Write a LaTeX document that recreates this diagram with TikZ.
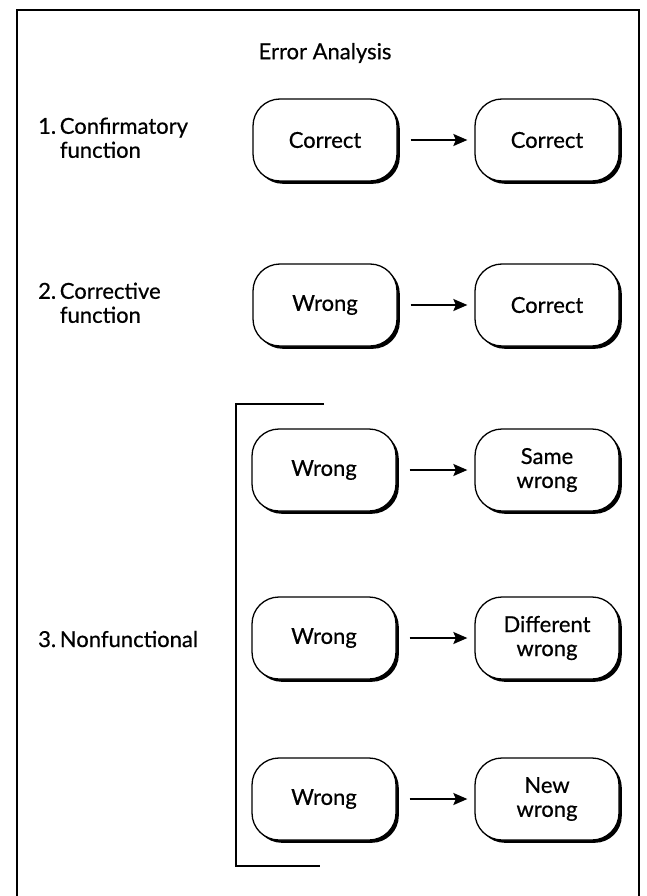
\documentclass[tikz,border=0pt]{standalone}
\usepackage{fontspec}
\setmainfont{Lato}[FakeBold=0.6]
\usetikzlibrary{arrows.meta,shadows}

\begin{document}
\begin{tikzpicture}[x=1pt,y=-1pt,
  every node/.style={font=\fontsize{22}{24}\selectfont, text=black},
  stage/.style={rectangle, rounded corners=27pt, draw=black, line width=1.3pt,
    fill=white, minimum width=144pt, minimum height=82pt, align=center,
    inner sep=0pt,
    drop shadow={shadow xshift=2.8pt, shadow yshift=-2.8pt, fill=black, opacity=1}},
  flow/.style={line width=1.6pt, -{Stealth[length=14pt,width=12pt,inset=2.5pt]},
    shorten <=13pt, shorten >=7pt},
  caption/.style={anchor=west, align=left, inner sep=0pt},
  frameline/.style={line width=1.8pt},
  bracketline/.style={line width=1.4pt}
]
\useasboundingbox (0,0) rectangle (647,896);

% outer frame, open at the bottom
\draw[frameline] (17,896) -- (17,10) -- (639,10) -- (639,896);

% heading
\node (title) at (325,53) {Error Analysis};

% row labels
\node[caption] (lab1) at (38,141) {\begin{tabular}{@{}l@{\,}l@{}}1. & Confirmatory\\ & function\end{tabular}};
\node[caption] (lab2) at (38,306) {\begin{tabular}{@{}l@{\,}l@{}}2. & Corrective\\ & function\end{tabular}};
\node[caption] (lab3) at (38,639) {3.\,Nonfunctional};

% bracket grouping the nonfunctional cases
\coordinate (brA) at (324,404);
\coordinate (brB) at (236,404);
\coordinate (brC) at (236,866);
\coordinate (brD) at (320,866);
\draw[bracketline] (brA) -- (brB) -- (brC) -- (brD);

% stages
\node[stage] (a1) at (325,140) {Correct};
\node[stage] (b1) at (547,140) {Correct};
\node[stage] (a2) at (325,305) {Wrong};
\node[stage] (b2) at (547,305) {Correct};
\node[stage] (a3) at (324,470) {Wrong};
\node[stage] (b3) at (547,470) {Same\\wrong};
\node[stage] (a4) at (324,638) {Wrong};
\node[stage] (b4) at (547,638) {Different\\wrong};
\node[stage] (a5) at (324,799) {Wrong};
\node[stage] (b5) at (547,799) {New\\wrong};

% transitions
\draw[flow] (a1) -- (b1);
\draw[flow] (a2) -- (b2);
\draw[flow] (a3) -- (b3);
\draw[flow] (a4) -- (b4);
\draw[flow] (a5) -- (b5);
\end{tikzpicture}
\end{document}
